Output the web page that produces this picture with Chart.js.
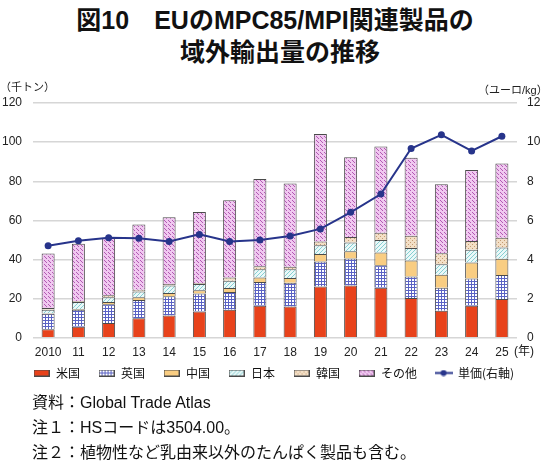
<!DOCTYPE html>
<html>
<head>
<meta charset="utf-8">
<script src="https://cdn.jsdelivr.net/npm/chart.js@4.4.1/dist/chart.umd.min.js"></script>
<style>
    body { margin: 0; background: #fff; }
    #wrap { position: relative; width: 550px; height: 466px; overflow: hidden;
            font-family: "Liberation Sans", "Noto Sans CJK JP", sans-serif; color: #111; }
    .title { position: absolute; left: 0; width: 550px; text-align: center;
             font-weight: bold; font-size: 25px; line-height: 30px; white-space: nowrap; }
    .unit { position: absolute; font-size: 11px; line-height: 14px; color: #222; white-space: nowrap; }
    .note { position: absolute; left: 32px; font-size: 16px; line-height: 24px; white-space: nowrap; }
    #chartBox { position: absolute; left: 0; top: 80px; width: 550px; height: 328px; }
</style>
</head>
<body>
<div id="wrap">
    <div id="chartBox"><canvas id="chart"></canvas></div>
    <div class="title" style="top:5px">図10　EUのMPC85/MPI関連製品の</div>
    <div class="title" style="top:37px;left:5px">域外輸出量の推移</div>
    <div class="unit" style="left:0px;top:80px">（千トン）</div>
    <div class="unit" style="left:478px;top:83px">（ユーロ/kg）</div>
    <div class="unit" style="left:514px;top:344px;font-size:12px">(年)</div>
    <div class="note" style="top:391px">資料：Global Trade Atlas</div>
    <div class="note" style="top:416px">注１：HSコードは3504.00。</div>
    <div class="note" style="top:441px">注２：植物性など乳由来以外のたんぱく製品も含む。</div>
</div>
<script>
// categories (years)
const years = ['2010', '11', '12', '13', '14', '15', '16', '17', '18', '19', '20', '21', '22', '23', '24', '25'];

// export volume by destination (thousand tonnes)
const usData    = [4.3, 5.6, 7.5, 9.9, 11.3, 13.4, 14.2, 16.3, 15.9, 26.1, 26.7, 25.5, 20.2, 13.7, 16.3, 19.7];
const ukData    = [7.9, 8.6, 9.6, 9.3, 9.8, 9.1, 9.1, 12.1, 12.2, 12.8, 13.8, 11.5, 11.0, 11.8, 13.9, 12.3];
const chinaData = [0.3, 0.4, 1.1, 1.5, 1.7, 1.7, 2.1, 2.4, 2.4, 3.8, 3.7, 6.5, 8.2, 6.7, 8.2, 8.3];
const japanData = [1.7, 3.6, 2.4, 2.9, 3.9, 3.2, 3.7, 4.2, 4.5, 4.6, 4.5, 6.4, 6.4, 5.3, 6.5, 5.8];
const koreaData = [0.9, 0.5, 1.0, 0.9, 0.7, 0.5, 1.7, 1.5, 1.3, 1.9, 2.7, 3.7, 6.3, 5.7, 4.5, 5.0];
const otherData = [27.9, 29.3, 29.5, 33.4, 34.1, 36.4, 39.5, 44.6, 42.5, 55.0, 40.8, 44.2, 39.9, 35.3, 36.3, 38.0];

// unit price (euro/kg, right axis)
const priceData = [4.70, 4.95, 5.11, 5.08, 4.92, 5.28, 4.92, 4.99, 5.20, 5.56, 6.41, 7.34, 9.67, 10.37, 9.55, 10.30];

const BORDER = '#4a4a4a';
const LINE_COLOR = '#27348b';

// small tiled fills like the office-chart patterns
function makePattern(size, bg, fg, cells) {
    const c = document.createElement('canvas');
    c.width = size;
    c.height = size;
    const g = c.getContext('2d');
    g.fillStyle = bg;
    g.fillRect(0, 0, size, size);
    g.fillStyle = fg;
    cells.forEach(([x, y]) => g.fillRect(x, y, 1, 1));
    return g.createPattern(c, 'repeat');
}

const ctx = document.getElementById('chart').getContext('2d');

const fills = {
    us: '#e8421b',
    uk: makePattern(3, '#ffffff', '#5a62c4', [[0, 0], [1, 0], [2, 0], [0, 1], [0, 2]]),
    china: '#f9cd82',
    japan: makePattern(4, '#eaf8f8', '#86cfd2', [[0, 0], [2, 2], [1, 3], [3, 1]]),
    korea: makePattern(4, '#f3dfc6', '#c39b73', [[0, 0], [2, 2]]),
    other: makePattern(4, '#f0c8f0', '#b25ab2', [[0, 0], [2, 2], [1, 1]])
};

function barIcon(fill) {
    const c = document.createElement('canvas');
    c.width = 16;
    c.height = 7;
    const g = c.getContext('2d');
    g.fillStyle = fill;
    g.fillRect(0, 0, 16, 7);
    g.strokeStyle = BORDER;
    g.lineWidth = 1;
    g.strokeRect(0.5, 0.5, 15, 6);
    return c;
}

function lineIcon() {
    const c = document.createElement('canvas');
    c.width = 18;
    c.height = 7;
    const g = c.getContext('2d');
    g.strokeStyle = LINE_COLOR;
    g.lineWidth = 2;
    g.beginPath();
    g.moveTo(0, 3.5);
    g.lineTo(18, 3.5);
    g.stroke();
    g.fillStyle = LINE_COLOR;
    g.beginPath();
    g.arc(9, 3.5, 3, 0, Math.PI * 2);
    g.fill();
    return c;
}

function barSet(label, data, fill) {
    return {
        type: 'bar',
        label: label,
        data: data,
        backgroundColor: fill,
        borderColor: BORDER,
        borderWidth: 1,
        stack: 's',
        yAxisID: 'y',
        order: 2,
        barPercentage: 0.43,
        categoryPercentage: 1.0,
        legendIcon: barIcon(fill)
    };
}

// nudge the legend row so it starts under the plot area, as in the original
const legendShift = {
    id: 'legendShift',
    afterLayout(chart) {
        const lg = chart.legend;
        if (!lg) return;
        lg.left += 15;
        lg.right += 15;
        lg.top -= 19;
        lg.bottom -= 19;
    }
};

const tickFont = { family: '"Liberation Sans", "Noto Sans CJK JP", sans-serif', size: 12 };

new Chart(ctx, {
    data: {
        labels: years,
        datasets: [
            barSet('米国', usData, fills.us),
            barSet('英国', ukData, fills.uk),
            barSet('中国', chinaData, fills.china),
            barSet('日本', japanData, fills.japan),
            barSet('韓国', koreaData, fills.korea),
            barSet('その他', otherData, fills.other),
            {
                type: 'line',
                label: '単価(右軸)',
                data: priceData,
                yAxisID: 'y2',
                borderColor: LINE_COLOR,
                backgroundColor: LINE_COLOR,
                borderWidth: 2,
                pointRadius: 3.5,
                pointBackgroundColor: LINE_COLOR,
                pointBorderWidth: 0,
                tension: 0,
                order: 1,
                legendIcon: lineIcon()
            }
        ]
    },
    plugins: [legendShift],
    options: {
        responsive: true,
        maintainAspectRatio: false,
        animation: false,
        layout: {
            padding: { top: 23, left: 0, right: 0, bottom: 0 }
        },
        scales: {
            x: {
                stacked: true,
                grid: { display: false, drawTicks: false },
                border: { display: false },
                ticks: { color: '#222', font: tickFont, padding: 8, maxRotation: 0, autoSkip: false }
            },
            y: {
                stacked: true,
                position: 'left',
                min: 0,
                max: 120,
                grid: { color: '#d6d6d6', lineWidth: 1.4, drawTicks: false },
                border: { display: false },
                ticks: { stepSize: 20, color: '#222', font: tickFont, padding: 11 },
                afterFit: (scale) => { scale.width = 33; }
            },
            y2: {
                position: 'right',
                min: 0,
                max: 12,
                grid: { display: false, drawTicks: false },
                border: { display: false },
                ticks: { stepSize: 2, color: '#222', font: tickFont, padding: 10 },
                afterFit: (scale) => { scale.width = 33; }
            }
        },
        plugins: {
            legend: {
                position: 'bottom',
                align: 'start',
                labels: {
                    usePointStyle: true,
                    pointStyleWidth: 17,
                    padding: 18,
                    color: '#111',
                    font: { family: '"Noto Sans CJK JP", sans-serif', size: 12 },
                    sort: (a, b) => a.datasetIndex - b.datasetIndex,
                    generateLabels: (chart) => chart.data.datasets.map((ds, i) => ({
                        text: ds.label,
                        pointStyle: ds.legendIcon,
                        datasetIndex: i,
                        hidden: false,
                        lineWidth: 0,
                        fillStyle: 'transparent',
                        strokeStyle: 'transparent',
                        fontColor: '#111'
                    }))
                }
            },
            tooltip: { enabled: false }
        }
    }
});
</script>
</body>
</html>
